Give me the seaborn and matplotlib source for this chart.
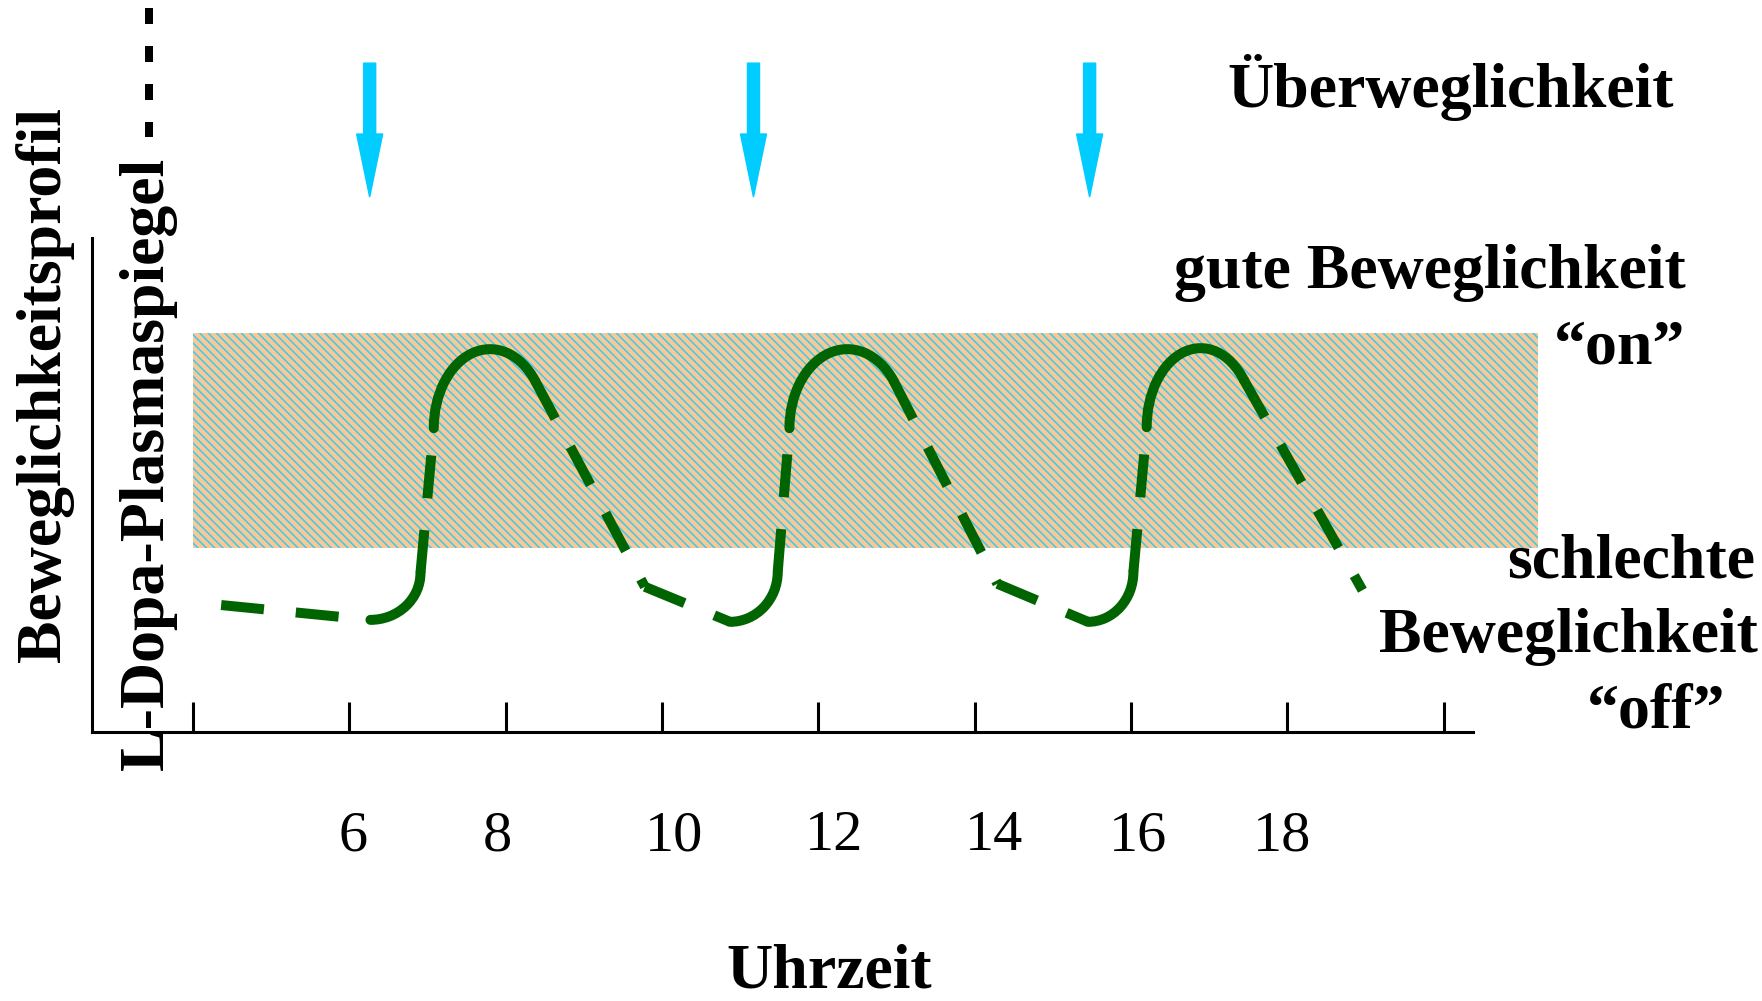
import numpy as np
import pandas as pd
import matplotlib.pyplot as plt
import seaborn as sns
from matplotlib.patches import Arc

# time axis in hours, plasma level on a 0..100 scale
tick_hours = [4, 6, 8, 10, 12, 14, 16, 18, 20]
label_hours = [6.05, 7.9, 10.15, 12.2, 14.25, 16.09, 17.93]
label_text = ['6', '8', '10', '12', '14', '16', '18']
dose_hours = [6.26, 11.17, 15.47]

band_hours = [4.0, 21.21]
band_low, band_high = 37.2, 80.8

start_h, start_lev = 4.36, 25.7
trough_h = [6.27, 10.87, 15.45]
trough_lev = [32.2, 32.4, 32.4]
trough_rh = [0.64, 0.61, 0.58]
trough_rlev = [9.5, 10.1, 10.1]
peak_h = [7.80, 12.37, 16.89]
peak_lev = [61.5, 61.5, 61.7]
peak_rh = [0.72, 0.74, 0.69]
peak_rlev = [16.0, 16.0, 16.0]
peak_end_deg = [37, 37, 37]
fall_h = [9.78, 14.29, 18.96]
fall_lev = [29.4, 30.0, 28.7]

green = '#006400'
cyan = '#00CCFF'
W, H = 1762, 1001

sns.set_theme(style='white')
plt.rcParams['font.family'] = ['Liberation Serif', 'DejaVu Serif']
plt.rcParams['hatch.linewidth'] = 1.1

fig = plt.figure(figsize=(W / 100, H / 100), dpi=100)
ax = fig.add_axes([92 / W, 1 - 732 / H, (1561 - 92) / W, (732 - 238) / H])
ax.set_xlim(2.708, 21.5)
ax.set_ylim(0, 100)

# hatched "on" band
ax.fill_between(band_hours, band_low, band_high, facecolor='#F7C898',
                edgecolor='#3DCAEB', hatch='\\\\\\\\', linewidth=0, zorder=1)

# dashed pieces of the plasma curve
rows = []
def seg(n, p0, p1):
    rows.append({'seg': n, 'h': p0[0], 'lev': p0[1]})
    rows.append({'seg': n, 'h': p1[0], 'lev': p1[1]})

seg(0, (start_h, start_lev), (trough_h[0], trough_lev[0] - trough_rlev[0]))
k = 1
for i in range(3):
    seg(k, (trough_h[i] + trough_rh[i], trough_lev[i]), (peak_h[i] - peak_rh[i], peak_lev[i]))
    t = np.radians(peak_end_deg[i])
    dx, dy = peak_rh[i] * np.cos(t), peak_rlev[i] * np.sin(t)
    seg(k + 1, (peak_h[i] + dx, peak_lev[i] + dy), (fall_h[i], fall_lev[i]))
    if i < 2:
        seg(k + 2, (fall_h[i], fall_lev[i]),
            (trough_h[i + 1], trough_lev[i + 1] - trough_rlev[i + 1]))
    k += 3

    # solid arcs: trough and peak
    ax.add_patch(Arc((trough_h[i], trough_lev[i]), 2 * trough_rh[i], 2 * trough_rlev[i],
                     theta1=270, theta2=360, color=green, linewidth=7.2,
                     capstyle='round', zorder=3))
    ax.add_patch(Arc((peak_h[i], peak_lev[i]), 2 * peak_rh[i], 2 * peak_rlev[i],
                     theta1=np.degrees(np.arctan2(dy, dx)), theta2=180, color=green,
                     linewidth=7.2, capstyle='round', zorder=3))

df = pd.DataFrame(rows)
sns.lineplot(data=df, x='h', y='lev', units='seg', estimator=None, sort=False,
             color=green, linewidth=7.2, linestyle=(0, (4.3, 3.2)),
             dash_capstyle='butt', ax=ax, zorder=3)
ax.set_xlabel('')
ax.set_ylabel('')

# dosing arrows
for h in dose_hours:
    ax.arrow(h, 135.4, 0, -27.1, width=0.154, head_width=0.333, head_length=12.75,
             length_includes_head=True, color=cyan, clip_on=False, zorder=4)

# line style key next to the rotated label
ax.plot([3.437, 3.437], [146.6, 120.4], color='black', linewidth=5.76,
        linestyle=(0, (2, 2.75)), dash_capstyle='butt', clip_on=False)

# axes look
sns.despine(ax=ax)
for s in ['left', 'bottom']:
    ax.spines[s].set_color('black')
    ax.spines[s].set_linewidth(2.2)
ax.spines['bottom'].set_bounds(2.708, 20.38)
ax.set_yticks([])
ax.set_xticks(tick_hours)
ax.tick_params(axis='x', direction='in', length=21.6, width=2.2, color='black',
               labelbottom=False, bottom=True)

for h, s in zip(label_hours, label_text):
    ax.text(h, -23.9, s, ha='center', va='baseline', fontsize=42, color='black')

bold = dict(fontsize=46, fontweight='bold', color='black')
def ftext(px, py, s, **kw):
    fig.text(px / W, 1 - py / H, s, **bold, **kw)

ftext(1451, 107, 'Überweglichkeit', ha='center', va='baseline')
ftext(1686, 288, 'gute Beweglichkeit', ha='right', va='baseline')
ftext(1685, 363, '\u201Con\u201D', ha='right', va='baseline')
ftext(1755, 577, 'schlechte', ha='right', va='baseline')
ftext(1758, 652, 'Beweglichkeit', ha='right', va='baseline')
ftext(1725, 728, '\u201Coff\u201D', ha='right', va='baseline')
ftext(829, 988, 'Uhrzeit', ha='center', va='baseline')
ftext(60, 385, 'Beweglichkeitsprofil', ha='center', va='baseline',
      rotation=90, rotation_mode='anchor')
ftext(163, 463, 'L-Dopa-Plasmaspiegel', ha='center', va='baseline',
      rotation=90, rotation_mode='anchor')

fig.savefig('out.png', dpi=100)
